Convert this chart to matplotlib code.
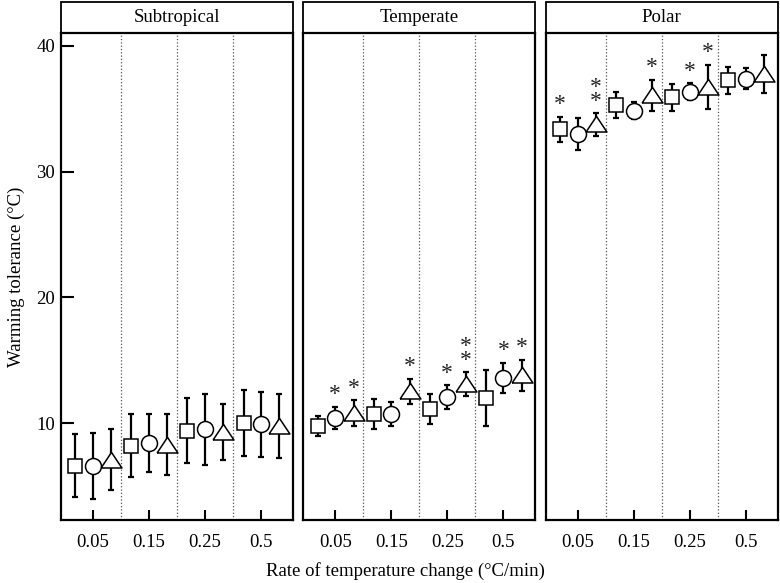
import numpy as np
import matplotlib
matplotlib.use("Agg")
import matplotlib.pyplot as plt
from matplotlib.patches import Rectangle

plt.rcParams['font.family'] = ['Liberation Serif', 'DejaVu Serif']

regions = ["Subtropical", "Temperate", "Polar"]
rates = ["0.05", "0.15", "0.25", "0.5"]

# means and error bars, rows = square, circle, triangle series
sub_mean = [[6.6, 8.2, 9.4, 10.0],
            [6.6, 8.4, 9.5, 9.9],
            [7.1, 8.3, 9.3, 9.8]]
sub_err = [[2.5, 2.5, 2.6, 2.6],
           [2.65, 2.3, 2.85, 2.6],
           [2.4, 2.4, 2.25, 2.55]]
sub_stars = [[0, 0, 0, 0],
             [0, 0, 0, 0],
             [0, 0, 0, 0]]

temp_mean = [[9.75, 10.75, 11.1, 12.0],
             [10.4, 10.75, 12.05, 13.6],
             [10.8, 12.55, 13.1, 13.8]]
temp_err = [[0.8, 1.2, 1.2, 2.2],
            [0.9, 0.95, 0.95, 1.2],
            [1.05, 1.0, 0.95, 1.25]]
temp_stars = [[0, 0, 0, 0],
              [1, 0, 1, 1],
              [1, 1, 2, 1]]

polar_mean = [[33.35, 35.3, 35.9, 37.25],
              [33.0, 34.85, 36.35, 37.4],
              [33.75, 36.05, 36.75, 37.75]]
polar_err = [[1.03, 1.0, 1.1, 1.05],
             [1.3, 0.7, 0.67, 0.85],
             [0.9, 1.25, 1.75, 1.5]]
polar_stars = [[1, 0, 0, 0],
               [0, 0, 1, 0],
               [2, 1, 1, 0]]

all_mean = [sub_mean, temp_mean, polar_mean]
all_err = [sub_err, temp_err, polar_err]
all_stars = [sub_stars, temp_stars, polar_stars]

tri = [(-1, -0.72), (1, -0.72), (0, 0.78), (-1, -0.72)]
markers = ["s", "o", tri]
msizes = [9.5, 11.5, 15]
offsets = [-0.31, 0.0, 0.33]

fig, axes = plt.subplots(1, 3, figsize=(7.8, 5.83), dpi=100, sharey=True)
plt.subplots_adjust(left=0.078, right=0.997, bottom=0.108, top=0.943, wspace=0.045)

x = np.arange(1, len(rates) + 1)
for ax, name, means, errs, stars in zip(axes, regions, all_mean, all_err, all_stars):
    for d in [1.5, 2.5, 3.5]:
        ax.axvline(d, color="#555555", linestyle=":", linewidth=0.9, zorder=0)
    for k in range(3):
        xs = x + offsets[k]
        ax.errorbar(xs, means[k], yerr=errs[k], fmt="none", ecolor="black",
                    elinewidth=1.6, capsize=2.5, capthick=1.6, zorder=2)
        ax.plot(xs, means[k], linestyle="none", marker=markers[k], markersize=msizes[k],
                mfc="white", mec="black", mew=1.1, zorder=3)
        for xi, m, e, n in zip(xs, means[k], errs[k], stars[k]):
            if n:
                ax.annotate("\n".join(["*"] * n), (xi, m + e), xytext=(0, 1), textcoords="offset points",
                            ha="center", va="bottom", fontsize=17, linespacing=0.55, color="#222222")
    ax.set_xlim(0.43, 4.57)
    ax.set_ylim(2.3, 41.0)
    ax.set_xticks(x)
    ax.set_xticklabels(rates, fontsize=13.5)
    ax.tick_params(axis="x", direction="in", length=7, width=1.5, pad=10)
    ax.tick_params(axis="y", direction="in", length=9, width=1.5, labelsize=13.5, pad=4)
    for sp in ax.spines.values():
        sp.set_linewidth(1.6)
    ax.add_patch(Rectangle((0, 1.0), 1, 0.064, transform=ax.transAxes, clip_on=False,
                           facecolor="white", edgecolor="black", linewidth=1.3))
    ax.text(0.5, 1.032, name, transform=ax.transAxes, ha="center", va="center", fontsize=13.5)

axes[0].set_yticks([10, 20, 30, 40])
axes[1].tick_params(axis="y", length=0)
axes[2].tick_params(axis="y", length=0)
axes[0].set_ylabel("Warming tolerance (°C)", fontsize=13.5, labelpad=8)
fig.text(0.52, 0.006, "Rate of temperature change (°C/min)", ha="center", va="bottom", fontsize=13.5)

fig.savefig("out.png", dpi=100)
